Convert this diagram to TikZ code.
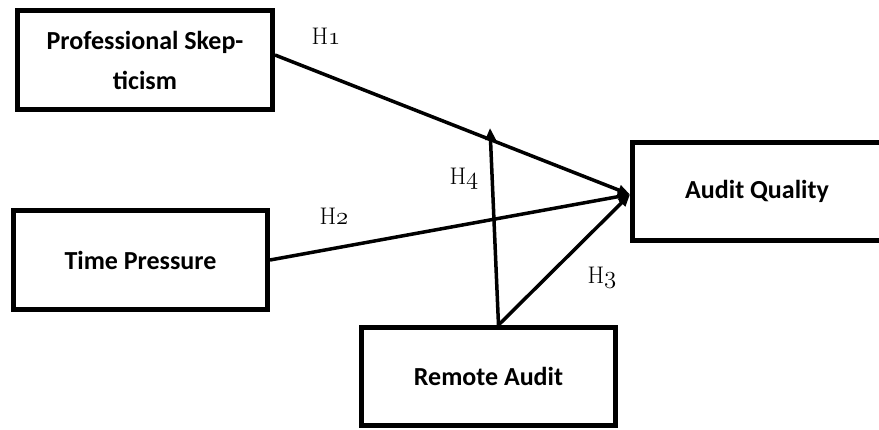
\documentclass[tikz,border=0pt]{standalone}
\usepackage{fontspec}
\setsansfont{Carlito}
\usetikzlibrary{arrows.meta}
% old-style digits taken from the math italic font
\newcommand{\osdigit}[1]{{\fontencoding{OML}\fontfamily{cmm}\fontseries{m}\fontshape{it}\selectfont #1}}
\tikzset{
  varbox/.style={draw, line width=5pt, rectangle, align=center,
    font=\sffamily\bfseries\fontsize{26}{40}\selectfont, inner sep=0pt},
  link/.style={line width=3.5pt, -{Triangle[length=12pt,width=10pt]}},
  hyp/.style={font=\fontsize{24}{24}\selectfont, inner sep=0pt}
}
\begin{document}
\begin{tikzpicture}[x=1pt,y=-1pt]
  \useasboundingbox (0,0) rectangle (879,430);
  \clip (0,0) rectangle (879,430);
  % variables
  \node[varbox, minimum width=255pt, minimum height=99pt] (ps) at (145,60)
    {Professional Skep-\\ticism};
  \node[varbox, minimum width=254pt, minimum height=99pt] (tp) at (140.5,260)
    {Time Pressure};
  \node[varbox, minimum width=249pt, minimum height=98pt] (aq) at (757,191.5)
    {Audit Quality};
  \node[varbox, minimum width=254pt, minimum height=98pt] (ra) at (488.5,376.5)
    {Remote Audit};
  % moderation target just above the H1 path
  \coordinate (h4tip) at (490,128);
  % hypothesised paths
  \draw[link] ([yshift=5pt]ps.east) -- ([yshift=-3pt]aq.west);
  \draw[link] (tp.east) -- ([yshift=-3pt]aq.west);
  \draw[link] ([xshift=10pt]ra.north) -- ([yshift=-3pt]aq.west);
  \draw[link] ([xshift=10pt]ra.north) -- (h4tip);
  % path labels
  \node[hyp] (l1) at (326,36) {H\osdigit{1}};
  \node[hyp] (l2) at (334,216) {H\osdigit{2}};
  \node[hyp] (l4) at (464,179) {H\osdigit{4}};
  \node[hyp] (l3) at (602,278) {H\osdigit{3}};
\end{tikzpicture}
\end{document}
